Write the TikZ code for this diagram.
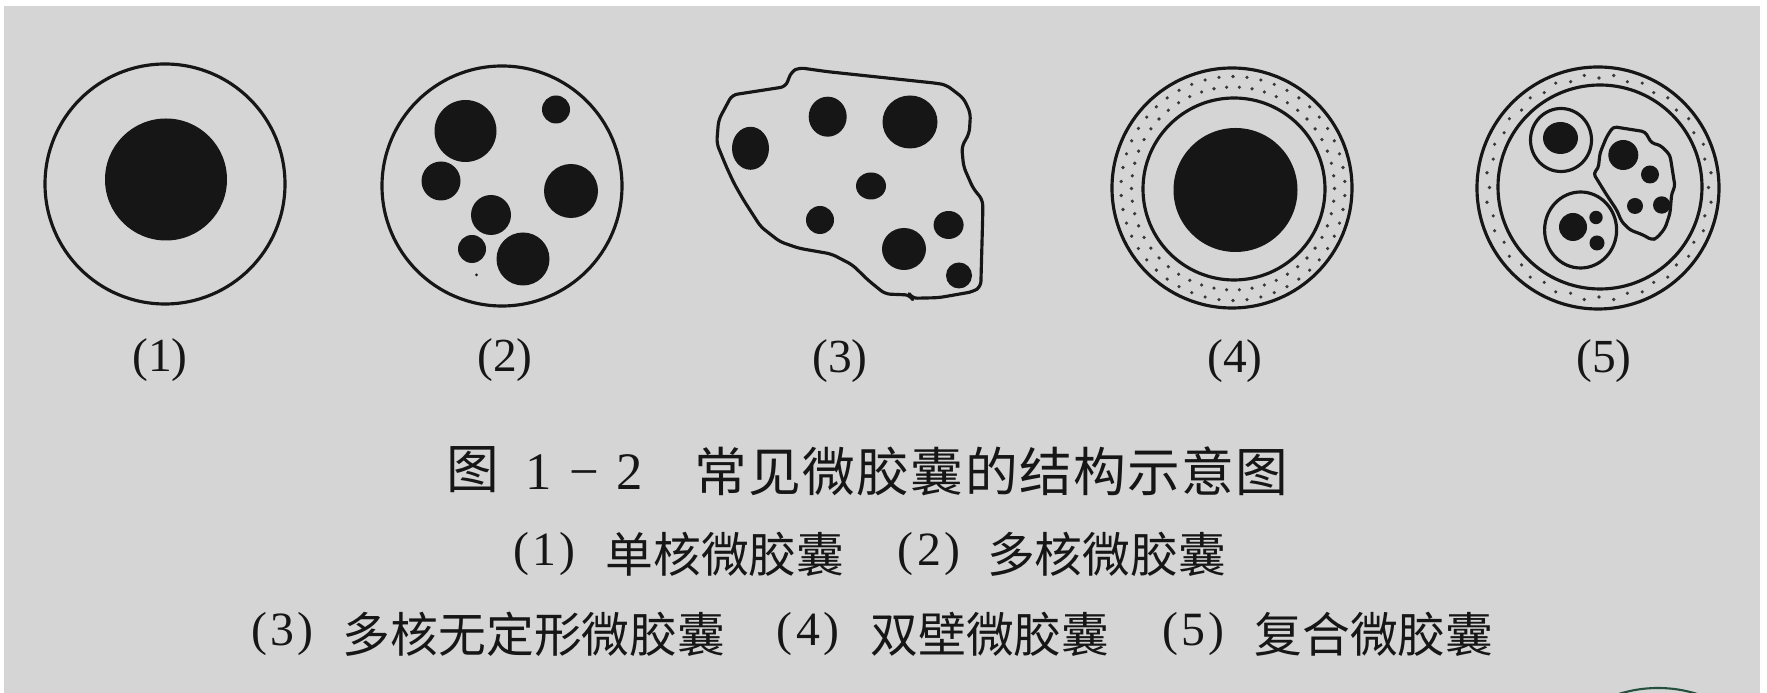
\documentclass[tikz,border=0pt]{standalone}
\usepackage{fontspec}
\setmainfont{Liberation Serif}
\newfontfamily\cjk{Noto Sans CJK SC}
\definecolor{paper}{RGB}{213,213,213}
\definecolor{ink}{RGB}{22,22,22}
\definecolor{dotc}{RGB}{55,55,55}
\definecolor{tabgreen}{RGB}{38,80,62}
\newcommand{\tk}{\kern0.4pt}
\begin{document}
\begin{tikzpicture}[x=0.1mm,y=-0.1mm,
  wall/.style={draw=ink,line width=0.9pt,line join=round},
  core/.style={fill=ink},
  grain/.style={fill=dotc},
  figlabel/.style={inner sep=0,text=ink,font=\fontsize{13.5}{14}\selectfont},
  titlecjk/.style={inner sep=0,text=ink,font=\fontsize{15}{16}\selectfont\cjk},
  titlenum/.style={inner sep=0,text=ink,font=\fontsize{15}{16}\selectfont},
  capcjk/.style={inner sep=0,text=ink,font=\fontsize{13.6}{14}\selectfont\cjk},
  capnum/.style={inner sep=0,text=ink,font=\fontsize{13.6}{14}\selectfont}]
\clip (0,0) rectangle (1767,693);
\useasboundingbox (0,0) rectangle (1767,693);
% paper
\fill[white] (0,0) rectangle (1767,693);
\fill[paper] (4,6) rectangle (1760,693);
\draw[tabgreen,line width=0.6pt] (1658,818) circle [radius=130];

% (1) single-core capsule
\draw[wall] (165,184) circle [radius=120];
\fill[core] (166,179.5) circle [radius=61];

% (2) multi-core capsule
\draw[wall] (502,186) circle [radius=120];
\fill[core] (465.5,131) circle [radius=31];
\fill[core] (556,109.5) circle [radius=14];
\fill[core] (441,181) circle [radius=19.5];
\fill[core] (571,191) circle [radius=27];
\fill[core] (491,215) circle [radius=20];
\fill[core] (472,249) circle [radius=14];
\fill[core] (523,259) circle [radius=26.5];
\fill[core] (476.5,275) circle [radius=1.5];

% (3) irregular multi-core capsule
\draw[wall,rounded corners=1.5] (732,95) -- (785.6,86.7) -- (791.4,71.7) -- (799,67.7)
  -- (827.7,71.7) -- (936.8,83.3) -- (946.3,85) -- (963.6,98.3) -- (970.5,113.3)
  -- (969.3,133.3) -- (961.7,146.7) -- (963.6,166.7) -- (973.1,188.3) -- (982.7,200)
  -- (982.7,216.7) -- (980.8,286.7) -- (973,291.7) -- (938.7,297.7) -- (911.9,298.3)
  -- (910,295) -- (885.1,294) -- (867.9,280) -- (852.6,265) -- (831.5,254)
  -- (799,248.3) -- (779.9,241.7) -- (760.7,226.7) -- (743.5,200) -- (734,183.3)
  -- (726.3,166.7) -- (716.7,143.3) -- (718.6,120) -- cycle;
\fill[core] (750.5,148.3) ellipse [x radius=18.5,y radius=21.5];
\fill[core] (827.7,116.7) ellipse [x radius=19,y radius=20];
\fill[core] (910,122) ellipse [x radius=27.5,y radius=26.5];
\fill[core] (871,186) ellipse [x radius=15,y radius=13.5];
\fill[core] (820,220) circle [radius=14];
\fill[core] (904,249) ellipse [x radius=22,y radius=21];
\fill[core] (948.6,225) ellipse [x radius=15,y radius=14];
\fill[core] (959,275.5) circle [radius=13];

% (4) double-walled capsule
\draw[wall] (1232,188) circle [radius=120];
\draw[wall] (1234,189) circle [radius=91];
\foreach \a in {0,7.2,...,359} {
  \fill[grain] (1233,188.5) ++(\a:101.5) circle [radius=1.8];
  \fill[grain] (1233,188.5) ++(\a+3.6:112) circle [radius=1.8];
}
\fill[core] (1235.5,190) circle [radius=62];

% (5) compound capsule
\draw[wall] (1598,188) circle [radius=121];
\draw[wall] (1600,187) circle [radius=102];
\foreach \a [count=\i] in {0,7.5,...,359} {
  \pgfmathsetmacro{\rr}{isodd(\i) ? 109.5 : 113}
  \fill[grain] (1599,187.5) ++(\a:\rr) circle [radius=1.8];
}
\draw[wall] (1561,140) ellipse [x radius=30.5,y radius=31.5];
\fill[core] (1560.5,138) ellipse [x radius=17.5,y radius=16];
\draw[wall] (1580.6,230) ellipse [x radius=36,y radius=38];
\fill[core] (1573,227) circle [radius=14];
\fill[core] (1596,217.5) circle [radius=6.7];
\fill[core] (1597,243) circle [radius=7.5];
\draw[wall,rounded corners=1] (1613.3,126.7) -- (1645,131.7) -- (1651.7,143.3) -- (1660,145)
  -- (1670,155) -- (1675,186.7) -- (1671.7,193.3) -- (1670,213.3) -- (1665,228.3)
  -- (1656.7,238.3) -- (1651.7,240) -- (1643.3,235) -- (1630,230) -- (1621.7,221.7)
  -- (1616.7,210) -- (1606.7,195) -- (1593.3,173.3) -- (1598.3,168.3) -- (1600,153)
  -- (1606.7,136.7) -- cycle;
\fill[core] (1623.3,155) circle [radius=15];
\fill[core] (1650,174.5) circle [radius=9];
\fill[core] (1635,206) circle [radius=8];
\fill[core] (1661.7,205) circle [radius=8.7];

% labels under the capsules
\node[figlabel] (n1) at (160,360) {(1)};
\node[figlabel] (n2) at (505,360) {(2)};
\node[figlabel] (n3) at (840,361) {(3)};
\node[figlabel] (n4) at (1235,361) {(4)};
\node[figlabel] (n5) at (1604,361) {(5)};

% caption
\node[titlecjk] (tfig) at (473,470) {图};
\node[titlenum] (tnum) at (584,472) {1\kern5pt−\kern5pt2};
\node[titlecjk] (ttext) at (991.5,471)
  {常\tk 见\tk 微\tk 胶\tk 囊\tk 的\tk 结\tk 构\tk 示\tk 意\tk 图};

\node[capnum] (c1) at (544.5,554) {(\kern1pt 1\kern1pt)};
\node[capcjk] (c1t) at (725,554) {单核微胶囊};
\node[capnum] (c2) at (929,554) {(\kern1pt 2\kern1pt)};
\node[capcjk] (c2t) at (1106.5,554) {多核微胶囊};

\node[capnum] (c3) at (282.5,634) {(\kern1pt 3\kern1pt)};
\node[capcjk] (c3t) at (534,634) {多核无定形微胶囊};
\node[capnum] (c4) at (808,634) {(\kern1pt 4\kern1pt)};
\node[capcjk] (c4t) at (990,634) {双壁微胶囊};
\node[capnum] (c5) at (1193.5,634) {(\kern1pt 5\kern1pt)};
\node[capcjk] (c5t) at (1374,634) {复合微胶囊};
\end{tikzpicture}
\end{document}
